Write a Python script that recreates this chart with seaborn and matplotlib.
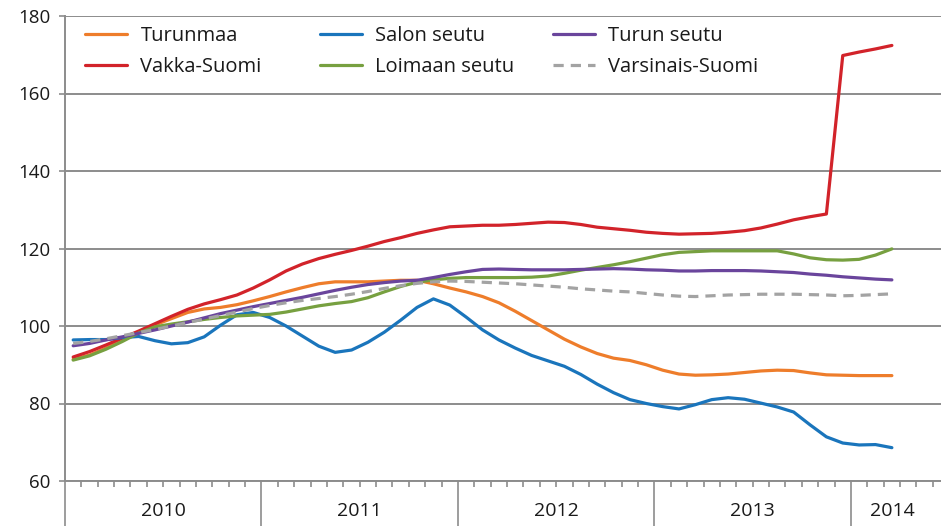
import numpy as np
import pandas as pd
import matplotlib
matplotlib.use("Agg")
import matplotlib.pyplot as plt
import seaborn as sns
from matplotlib.ticker import FixedLocator, NullFormatter

sns.set_theme(style="white")
plt.rcParams["font.family"] = ["Open Sans", "DejaVu Sans"]

# monthly index values, Jan 2010 - Mar 2014
months = np.arange(51)

turunmaa = [91.4, 92.5, 94.3, 96.3, 98.3, 100.3, 101.9, 103.5, 104.4, 104.8,
            105.5, 106.5, 107.6, 108.8, 109.9, 110.9, 111.4, 111.4, 111.4, 111.6,
            111.8, 111.8, 110.9, 109.8, 108.8, 107.6, 106.0, 103.8, 101.4, 99.0,
            96.6, 94.6, 92.9, 91.7, 91.1, 90.0, 88.6, 87.6, 87.3, 87.4,
            87.6, 88.0, 88.4, 88.6, 88.5, 87.9, 87.4, 87.3, 87.2, 87.2, 87.2]

salon_seutu = [96.4, 96.5, 96.5, 97.0, 97.3, 96.2, 95.4, 95.7, 97.2, 100.2,
               102.9, 103.5, 102.2, 100.0, 97.4, 94.8, 93.2, 93.8, 95.8, 98.4,
               101.5, 104.8, 107.0, 105.4, 102.3, 99.0, 96.4, 94.3, 92.4, 91.0,
               89.6, 87.5, 85.0, 82.8, 81.0, 80.0, 79.2, 78.6, 79.7, 81.0,
               81.5, 81.1, 80.1, 79.1, 77.8, 74.5, 71.4, 69.8, 69.3, 69.4, 68.6]

turun_seutu = [94.9, 95.5, 96.4, 97.2, 98.1, 99.0, 100.0, 101.0, 102.1, 103.2,
               104.1, 105.0, 105.8, 106.6, 107.4, 108.3, 109.2, 110.0, 110.7, 111.2,
               111.6, 111.8, 112.5, 113.3, 114.0, 114.6, 114.7, 114.6, 114.5, 114.5,
               114.5, 114.6, 114.7, 114.8, 114.7, 114.5, 114.4, 114.2, 114.2, 114.3,
               114.3, 114.3, 114.2, 114.0, 113.8, 113.4, 113.1, 112.7, 112.4, 112.1, 111.9]

vakka_suomi = [92.0, 93.4, 95.1, 96.9, 98.7, 100.6, 102.5, 104.3, 105.7, 106.8,
               108.0, 109.8, 111.9, 114.2, 116.0, 117.4, 118.5, 119.5, 120.6, 121.8,
               122.8, 123.9, 124.8, 125.6, 125.8, 126.0, 126.0, 126.2, 126.5, 126.8,
               126.7, 126.2, 125.5, 125.1, 124.7, 124.2, 123.9, 123.7, 123.8, 123.9,
               124.2, 124.6, 125.3, 126.3, 127.4, 128.2, 128.9, 169.8, 170.7, 171.5, 172.4]

loimaan_seutu = [91.2, 92.3, 94.0, 96.0, 98.2, 99.8, 100.5, 101.1, 101.7, 102.2,
                 102.6, 102.8, 103.0, 103.6, 104.4, 105.2, 105.8, 106.3, 107.3, 108.8,
                 110.2, 111.3, 111.9, 112.3, 112.5, 112.5, 112.5, 112.5, 112.6, 112.9,
                 113.6, 114.4, 115.1, 115.8, 116.6, 117.5, 118.4, 119.0, 119.2, 119.4,
                 119.4, 119.4, 119.4, 119.4, 118.6, 117.6, 117.1, 117.0, 117.2, 118.3, 119.9]

varsinais_suomi = [95.5, 96.0, 96.7, 97.5, 98.3, 99.1, 100.0, 100.9, 101.8, 102.7,
                   103.6, 104.5, 105.3, 106.0, 106.6, 107.1, 107.6, 108.2, 108.9, 109.7,
                   110.4, 111.0, 111.4, 111.6, 111.5, 111.3, 111.1, 110.9, 110.6, 110.3,
                   110.0, 109.6, 109.3, 109.0, 108.8, 108.4, 108.0, 107.7, 107.6, 107.8,
                   108.0, 108.1, 108.2, 108.2, 108.2, 108.1, 108.0, 107.8, 107.9, 108.1, 108.3]

years = ["2010", "2011", "2012", "2013", "2014"]
year_centers = [5.5, 17.5, 29.5, 41.5, 50]
year_starts = [-0.5, 11.5, 23.5, 35.5, 47.5]

series = [
    ("Turunmaa", turunmaa, "#ee7d2b", "-"),
    ("Vakka-Suomi", vakka_suomi, "#d2232a", "-"),
    ("Salon seutu", salon_seutu, "#1a75bc", "-"),
    ("Loimaan seutu", loimaan_seutu, "#77a040", "-"),
    ("Turun seutu", turun_seutu, "#6a459c", "-"),
    ("Varsinais-Suomi", varsinais_suomi, "#a3a3a3", (0, (3.2, 2.2))),
]

grid_col = "#8c8c8c"

fig = plt.figure(figsize=(9.41, 5.26), dpi=100)
ax = fig.add_axes([65 / 941, 1 - 481 / 526, 876 / 941, 465 / 526])

lines = {}
for name, vals, col, ls in series:
    sns.lineplot(x=months, y=vals, ax=ax, color=col, linewidth=2.3, legend=False)
    ln = ax.get_lines()[-1]
    ln.set_linestyle(ls)
    ln.set_solid_joinstyle("round")
    lines[name] = ln

ax.set_xlim(-0.5, 53.0)
ax.set_ylim(60, 180)
ax.set_yticks(range(60, 181, 20))
ax.yaxis.grid(True, color=grid_col, linewidth=1.4)
ax.set_axisbelow(True)
for s in ["top", "right"]:
    ax.spines[s].set_visible(False)
for s in ["left", "bottom"]:
    ax.spines[s].set_color(grid_col)
    ax.spines[s].set_linewidth(1.4)

ax.tick_params(axis="y", which="major", direction="out", length=4.5, width=1.2,
               color=grid_col, pad=6, labelsize=13.5, labelcolor="#1a1a1a", left=True)

ax.xaxis.set_major_locator(FixedLocator(year_starts))
ax.xaxis.set_major_formatter(NullFormatter())
ax.xaxis.set_minor_locator(FixedLocator(np.arange(-0.5, 53.0, 1.0)))
ax.tick_params(axis="x", which="major", direction="out", length=34, width=1.2,
               color=grid_col, bottom=True)
ax.tick_params(axis="x", which="minor", direction="out", length=4, width=1.2,
               color=grid_col, bottom=True)

trans = ax.get_xaxis_transform()
for lab, xc in zip(years, year_centers):
    ax.text(xc, -30 / 465, lab, transform=trans, ha="center", va="center",
            fontsize=14, color="#1a1a1a")

ax.set_xlabel("")
ax.set_ylabel("")

# legend in three columns, two rows each
cols = [("Turunmaa", "Vakka-Suomi"), ("Salon seutu", "Loimaan seutu"),
        ("Turun seutu", "Varsinais-Suomi")]
col_x = [85, 320, 553]
for i, (a, b) in enumerate(cols):
    leg = ax.legend([lines[a], lines[b]], [a, b], loc="upper left",
                    bbox_to_anchor=(col_x[i] / 941, 1 - 26 / 526),
                    bbox_transform=fig.transFigure, frameon=False,
                    borderpad=0, borderaxespad=0, handlelength=2.1,
                    handletextpad=0.65, labelspacing=0.57, fontsize=14.5)
    for t in leg.get_texts():
        t.set_color("#1a1a1a")
    if i < len(cols) - 1:
        ax.add_artist(leg)

fig.savefig("out.png", dpi=100)
